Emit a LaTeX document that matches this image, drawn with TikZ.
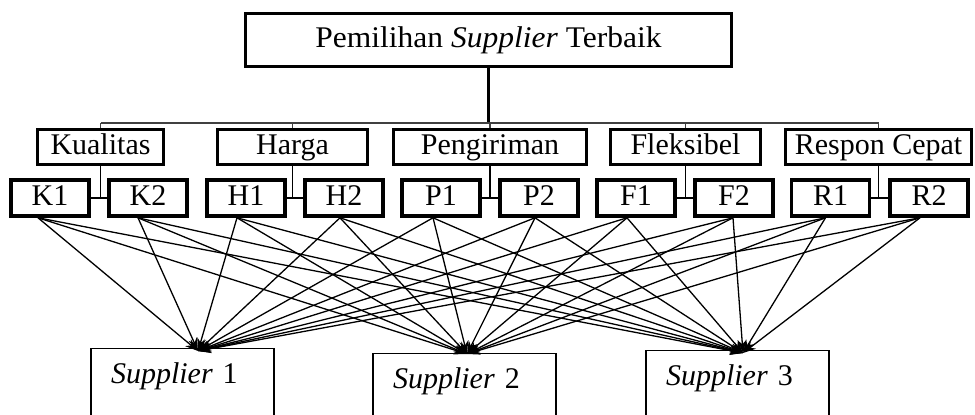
\documentclass[tikz,border=0pt]{standalone}
\usepackage{fontspec}
\setmainfont{Liberation Serif}
\usepackage{graphicx}
\usetikzlibrary{arrows.meta}
\begin{document}
\begin{tikzpicture}[x=1pt,y=-1pt,
  txt/.style={font=\fontsize{30}{36}\selectfont,text height=21pt,text depth=6pt},
  topbox/.style={txt,draw,line width=3pt,minimum width=486pt,minimum height=53pt,inner sep=0pt},
  catbox/.style={txt,draw,line width=3.4pt,minimum height=35pt,inner sep=0pt},
  subbox/.style={txt,draw,line width=3.6pt,minimum width=78pt,minimum height=36pt,inner sep=0pt},
  supbox/.style={font=\fontsize{30}{36}\selectfont,draw,line width=1.4pt,anchor=north,text width=143pt,inner xsep=20pt,inner ysep=14pt,text height=21pt,text depth=60pt,align=left},
  link/.style={line width=1.6pt},
  bus/.style={line width=1.1pt,black!75},
  trunk/.style={line width=2.4pt},
  crit/.style={line width=1.3pt,-{Stealth[length=13pt,width=9pt]}}
]
\useasboundingbox (0,0) rectangle (975,415);
\clip (0,0) rectangle (975,415);

% goal
\node[topbox] (top) at (488.5,40) {\scalebox{1.05}[1]{Pemilihan \textit{Supplier} Terbaik}};

% criteria
\node[catbox,minimum width=126pt] (kual) at (100.5,147) {Kualitas};
\node[catbox,minimum width=150pt] (harga) at (292.5,147) {Harga};
\node[catbox,minimum width=193pt] (kirim) at (490,147) {Pengiriman};
\node[catbox,minimum width=150pt] (fleks) at (685.5,147) {Fleksibel};
\node[catbox,minimum width=186pt] (resp) at (878.5,147) {Respon Cepat};

% sub-criteria
\node[subbox] (K1) at (50,198) {K1};
\node[subbox] (K2) at (148,198) {K2};
\node[subbox] (H1) at (246,198) {H1};
\node[subbox] (H2) at (344,198) {H2};
\node[subbox] (P1) at (441,198) {P1};
\node[subbox] (P2) at (539,198) {P2};
\node[subbox] (F1) at (636,198) {F1};
\node[subbox] (F2) at (734,198) {F2};
\node[subbox] (R1) at (830.5,198) {R1};
\node[subbox] (R2) at (929,198) {R2};

% alternatives
\node[supbox] (S1) at (182.5,348) {\textit{Supplier} 1};
\node[supbox] (S2) at (464.5,353) {\textit{Supplier} 2};
\node[supbox] (S3) at (737.5,350) {\textit{Supplier} 3};

% hierarchy lines
\coordinate (busy) at (0,123);
\draw[trunk] (top.south) -- (top.south |- busy);
\draw[bus] (kual.north |- busy) -- (resp.north |- busy);
\foreach \c in {kual,harga,kirim,fleks,resp}
  \draw[bus] (\c.north |- busy) -- (\c.north);
\foreach \c/\a/\b in {kual/K1/K2,harga/H1/H2,kirim/P1/P2,fleks/F1/F2,resp/R1/R2}{
  \draw[link] (\c.south) -- (\c.south |- \a.east);
  \draw[link] (\a.east) -- (\b.west);
}

% start points of the links
\coordinate (K1o) at ([xshift=-12pt]K1.south);
\coordinate (K2o) at ([xshift=-10pt]K2.south);
\coordinate (H1o) at ([xshift=-9pt]H1.south);
\coordinate (H2o) at ([xshift=-4pt]H2.south);
\coordinate (P1o) at ([xshift=-8pt]P1.south);
\coordinate (P2o) at ([xshift=-4pt]P2.south);
\coordinate (F1o) at ([xshift=-9pt]F1.south);
\coordinate (F2o) at ([xshift=-1pt]F2.south);
\coordinate (R1o) at ([xshift=-5pt]R1.south);
\coordinate (R2o) at ([xshift=-9pt]R2.south);

% end points
\coordinate (S1e) at ([xshift=15.5pt,yshift=-3pt]S1.north);
\coordinate (S2e) at ([xshift=2.5pt,yshift=-1pt]S2.north);
\coordinate (S3e) at ([xshift=5.5pt,yshift=-3pt]S3.north);

\foreach \s in {K1,K2,H1,H2,P1,P2,F1,F2,R1,R2}
  \foreach \t in {S1e,S2e,S3e}
    \draw[crit] (\s o) -- (\t);
\end{tikzpicture}
\end{document}
